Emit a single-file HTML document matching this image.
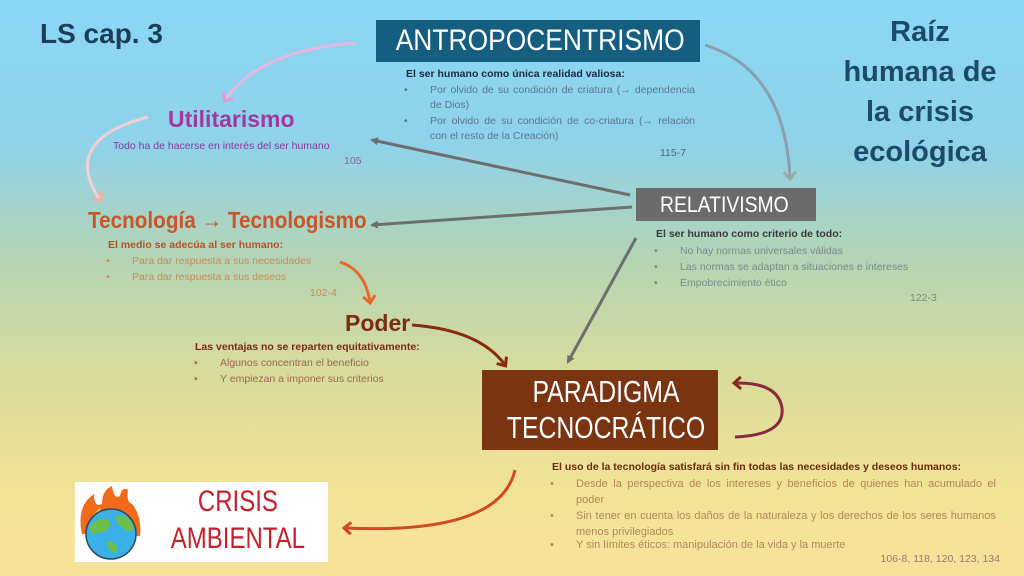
<!DOCTYPE html>
<html><head><meta charset="utf-8"><style>
*{margin:0;padding:0;box-sizing:border-box}
body{width:1024px;height:576px;overflow:hidden;position:relative;font-family:"Liberation Sans",sans-serif;
background:linear-gradient(180deg,#8ad8f5 0%,#8fd2ea 25%,#b4d4b4 45%,#d9dc9c 65%,#f2e396 85%,#f6e39a 100%)}
.a{position:absolute;white-space:nowrap}
.t{font-size:10.5px}
.b{position:absolute;font-size:10.5px;white-space:nowrap}
.b::before{content:"•";position:absolute;left:-26px}
</style></head><body>
<svg class="a" style="left:0;top:0" width="1024" height="576">
<defs>
<marker id="g" markerWidth="8" markerHeight="8" refX="6" refY="4" orient="auto" markerUnits="userSpaceOnUse"><path d="M0,0 L8,4 L0,8 Z" fill="#6e6e6e"/></marker>
<marker id="o" markerWidth="14" markerHeight="14" refX="7" refY="7" orient="auto" markerUnits="userSpaceOnUse"><path d="M1,1 L8,7 L1,13" fill="none" stroke="#e46a2a" stroke-width="3"/></marker>
<marker id="r" markerWidth="14" markerHeight="14" refX="7" refY="7" orient="auto" markerUnits="userSpaceOnUse"><path d="M1,1 L8,7 L1,13" fill="none" stroke="#8a2a10" stroke-width="3"/></marker>
<marker id="rr" markerWidth="14" markerHeight="14" refX="7" refY="7" orient="auto" markerUnits="userSpaceOnUse"><path d="M1,1 L8,7 L1,13" fill="none" stroke="#d14a22" stroke-width="3"/></marker>
<marker id="p" markerWidth="14" markerHeight="14" refX="7" refY="7" orient="auto" markerUnits="userSpaceOnUse"><path d="M1,1 L8,7 L1,13" fill="none" stroke="#e29ad8" stroke-width="3"/></marker>
<marker id="pk" markerWidth="14" markerHeight="14" refX="7" refY="7" orient="auto" markerUnits="userSpaceOnUse"><path d="M1,1 L8,7 L1,13" fill="none" stroke="#f0b0a8" stroke-width="3"/></marker>
<marker id="gb" markerWidth="14" markerHeight="14" refX="7" refY="7" orient="auto" markerUnits="userSpaceOnUse"><path d="M1,1 L8,7 L1,13" fill="none" stroke="#9aa" stroke-width="3"/></marker>
</defs>
<line x1="630" y1="195" x2="372" y2="140" stroke="#6e6e6e" stroke-width="3" marker-end="url(#g)"/>
<line x1="632" y1="207" x2="372" y2="225" stroke="#6e6e6e" stroke-width="3" marker-end="url(#g)"/>
<line x1="636" y1="238" x2="568" y2="362" stroke="#6e6e6e" stroke-width="3" marker-end="url(#g)"/>
<path d="M355,43 Q260,50 225,100" fill="none" stroke="#e8b8e0" stroke-width="3" marker-end="url(#p)"/>
<path d="M705,45 Q785,70 790,178" fill="none" stroke="#8aa0aa" stroke-width="3" marker-end="url(#gb)"/>
<path d="M148,117 Q60,140 100,200" fill="none" stroke="#f0d0d0" stroke-width="3" marker-end="url(#pk)"/>
<path d="M340,262 Q365,270 370,302" fill="none" stroke="#e46a2a" stroke-width="3" marker-end="url(#o)"/>
<path d="M412,325 Q480,330 505,365" fill="none" stroke="#8a2a10" stroke-width="3" marker-end="url(#r)"/>
<path d="M735,437 Q785,435 782,408 Q778,382 735,383" fill="none" stroke="#8a2a40" stroke-width="3" marker-end="url(#r)"/>
<path d="M515,470 Q500,535 345,528" fill="none" stroke="#d14a22" stroke-width="3" marker-end="url(#rr)"/>
</svg>

<div class="a" style="left:40px;top:18px;font-size:28px;font-weight:bold;color:#1c3d5c">LS cap. 3</div>
<div class="a" style="left:820px;top:12px;width:200px;text-align:center;font-size:29px;font-weight:bold;color:#1c4a6a;line-height:40px;white-space:normal">Raíz<br>humana de<br>la crisis<br>ecológica</div>

<div class="a" style="left:376px;top:20px;width:324px;height:42px;background:#155e80;color:#fff;font-size:30px;text-align:center;line-height:42px"><span style="display:inline-block;transform:scaleX(.88)">ANTROPOCENTRISMO</span></div>
<div class="a t" style="left:406px;top:68px;color:#1a2a44;font-weight:bold">El ser humano como única realidad valiosa:</div>
<div class="b" style="left:430px;top:83px;color:#5a7690;line-height:15px;white-space:normal;width:265px;text-align:justify">Por olvido de su condición de criatura (→ dependencia de Dios)</div>
<div class="b" style="left:430px;top:114px;color:#5a7690;line-height:15px;white-space:normal;width:265px;text-align:justify">Por olvido de su condición de co-criatura (→ relación con el resto de la Creación)</div>
<div class="a t" style="left:660px;top:147px;color:#4a6a86">115-7</div>

<div class="a" style="left:168px;top:106px;font-size:23px;font-weight:bold;color:#a03a9e">Utilitarismo</div>
<div class="a t" style="left:113px;top:140px;color:#8a3a90">Todo ha de hacerse en interés del ser humano</div>
<div class="a t" style="left:344px;top:155px;color:#7a6aa0">105</div>

<div class="a" style="left:88px;top:207px;font-size:23px;font-weight:bold;color:#c9552a;transform:scaleX(.9);transform-origin:left">Tecnología → Tecnologismo</div>
<div class="a t" style="left:108px;top:239px;color:#b6522a;font-weight:bold">El medio se adecúa al ser humano:</div>
<div class="b" style="left:132px;top:255px;color:#c88a60">Para dar respuesta a sus necesidades</div>
<div class="b" style="left:132px;top:271px;color:#c88a60">Para dar respuesta a sus deseos</div>
<div class="a t" style="left:310px;top:287px;color:#c88a60">102-4</div>

<div class="a" style="left:345px;top:310px;font-size:23px;font-weight:bold;color:#7a2d10">Poder</div>
<div class="a t" style="left:195px;top:341px;color:#7a2d10;font-weight:bold">Las ventajas no se reparten equitativamente:</div>
<div class="b" style="left:220px;top:357px;color:#9a6a50">Algunos concentran el beneficio</div>
<div class="b" style="left:220px;top:373px;color:#9a6a50">Y empiezan a imponer sus criterios</div>

<div class="a" style="left:636px;top:188px;width:180px;height:33px;background:#6b6b6b;color:#fff;font-size:22px;line-height:33px;padding-left:24px"><span style="display:inline-block;transform:scaleX(.88);transform-origin:left">RELATIVISMO</span></div>
<div class="a t" style="left:656px;top:228px;color:#3a3a3a;font-weight:bold">El ser humano como criterio de todo:</div>
<div class="b" style="left:680px;top:245px;color:#7a8a8a">No hay normas universales válidas</div>
<div class="b" style="left:680px;top:261px;color:#7a8a8a">Las normas se adaptan a situaciones e intereses</div>
<div class="b" style="left:680px;top:277px;color:#7a8a8a">Empobrecimiento ético</div>
<div class="a t" style="left:910px;top:292px;color:#7a8a8a">122-3</div>

<div class="a" style="left:482px;top:370px;width:236px;height:80px;background:#7a3412;color:#fff;font-size:31px;line-height:36px;text-align:center;padding-top:4px"><span style="display:inline-block;transform:scaleX(.8)">PARADIGMA<br>TECNOCRÁTICO</span></div>
<div class="a t" style="left:552px;top:461px;color:#6a2a10;font-weight:bold">El uso de la tecnología satisfará sin fin todas las necesidades y deseos humanos:</div>
<div class="b" style="left:576px;top:476px;color:#b08a58;line-height:16px;white-space:normal;width:420px;text-align:justify;font-size:11px">Desde la perspectiva de los intereses y beneficios de quienes han acumulado el poder</div>
<div class="b" style="left:576px;top:508px;color:#b08a58;line-height:16px;white-space:normal;width:420px;text-align:justify;font-size:11px">Sin tener en cuenta los daños de la naturaleza y los derechos de los seres humanos menos privilegiados</div>
<div class="b" style="left:576px;top:539px;color:#b08a58;font-size:11px">Y sin límites éticos: manipulación de la vida y la muerte</div>
<div class="a t" style="left:860px;top:553px;width:140px;text-align:right;color:#9a7a6a">106-8, 118, 120, 123, 134</div>

<div class="a" style="left:75px;top:482px;width:253px;height:80px;background:#fff"></div>
<svg class="a" style="left:76px;top:484px" width="70" height="78">
<path d="M6,50 Q0,22 18,10 Q18,24 26,20 Q26,6 36,2 Q38,16 44,12 Q46,2 52,6 Q50,18 56,20 Q66,32 64,52 Z" fill="#f26a1a"/>
<path d="M14,46 Q14,30 24,24 Q28,32 34,26 Q42,32 48,28 Q56,36 56,48 Z" fill="#f8b030"/>
<circle cx="35" cy="50" r="25" fill="#3ab0e8" stroke="#2a4a5a" stroke-width="1.5"/>
<path d="M14,42 Q24,30 35,38 Q30,52 22,48 Q14,54 14,42Z M40,32 Q55,30 58,45 Q50,50 45,42 Q40,40 40,32Z M30,58 Q40,55 42,68 Q35,72 30,58Z" fill="#6cc04a"/>
</svg>
<div class="a" style="left:150px;top:483px;width:175px;text-align:center;color:#c8202a;font-size:30px;line-height:37px"><span style="display:inline-block;transform:scaleX(.8)">CRISIS<br>AMBIENTAL</span></div>
</body></html>
